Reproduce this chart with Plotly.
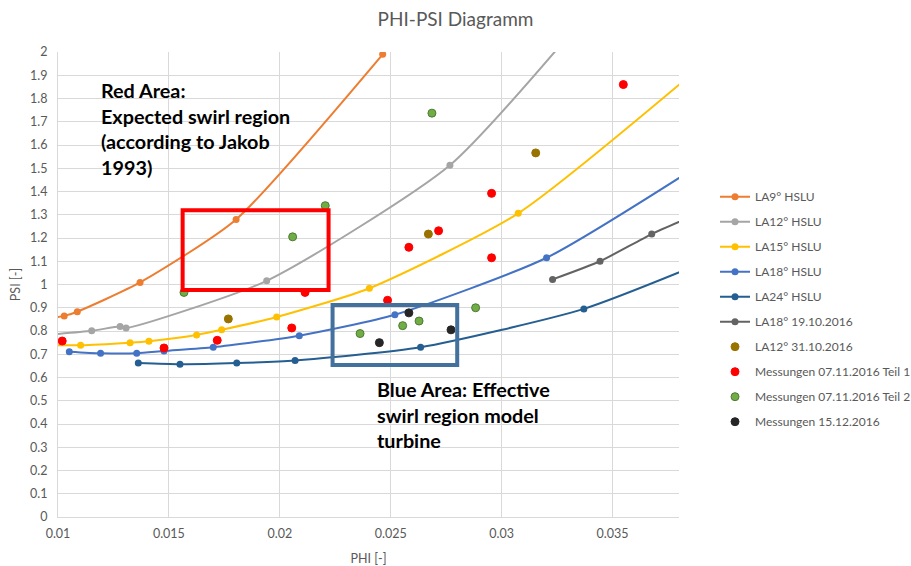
import plotly.graph_objects as go

# ---- characteristic curves (PHI, PSI) ----
la9_phi = [0.0092, 0.01028, 0.01087, 0.0137, 0.01803, 0.02464]
la9_psi = [0.850, 0.865, 0.883, 1.009, 1.280, 1.990]

la12_phi = [0.0085, 0.01152, 0.01280, 0.01307, 0.01941, 0.02767, 0.0340]
la12_psi = [0.775, 0.801, 0.819, 0.813, 1.016, 1.513, 2.180]

la15_phi = [0.0090, 0.01102, 0.01325, 0.01410, 0.01625, 0.01738, 0.01986, 0.02404, 0.03075, 0.0400]
la15_psi = [0.740, 0.739, 0.750, 0.756, 0.783, 0.805, 0.860, 0.984, 1.306, 2.020]

la18_phi = [0.01051, 0.01192, 0.01355, 0.01478, 0.01700, 0.02088, 0.02519, 0.03203, 0.0400]
la18_psi = [0.711, 0.704, 0.704, 0.714, 0.730, 0.780, 0.870, 1.115, 1.580]

la24_phi = [0.01362, 0.01550, 0.01806, 0.02069, 0.02635, 0.03371, 0.0400]
la24_psi = [0.662, 0.657, 0.662, 0.673, 0.730, 0.895, 1.130]

la18b_phi = [0.03230, 0.03444, 0.03677, 0.0390]
la18b_psi = [1.022, 1.100, 1.217, 1.310]

# ---- measurements ----
la12b_phi = [0.01768, 0.02670, 0.03154]
la12b_psi = [0.852, 1.217, 1.566]

m1_phi = [0.01019, 0.01478, 0.01718, 0.02054, 0.02114, 0.02486, 0.02582, 0.02716, 0.02955, 0.02955, 0.03549]
m1_psi = [0.757, 0.727, 0.760, 0.813, 0.966, 0.932, 1.160, 1.231, 1.392, 1.115, 1.860]

m2_phi = [0.01568, 0.02058, 0.02205, 0.02362, 0.02554, 0.02628, 0.02686, 0.02883]
m2_psi = [0.966, 1.205, 1.339, 0.789, 0.823, 0.843, 1.737, 0.900]

m3_phi = [0.02449, 0.02582, 0.02772]
m3_psi = [0.750, 0.878, 0.805]

# ---- highlighted regions (PHI from/to, PSI from/to) ----
red_area = [0.01562, 0.02220, 0.976, 1.319]
blue_area = [0.02238, 0.02800, 0.654, 0.912]

FONT = "Lato"
GREY_TXT = "#595959"

fig = go.Figure()

line_series = [
    ("LA9° HSLU", la9_phi, la9_psi, "#ED7D31"),
    ("LA12° HSLU", la12_phi, la12_psi, "#A5A5A5"),
    ("LA15° HSLU", la15_phi, la15_psi, "#FFC000"),
    ("LA18° HSLU", la18_phi, la18_psi, "#4472C4"),
    ("LA24° HSLU", la24_phi, la24_psi, "#255E91"),
    ("LA18° 19.10.2016", la18b_phi, la18b_psi, "#636363"),
]
for i, (name, xs, ys, col) in enumerate(line_series):
    fig.add_trace(go.Scatter(
        x=xs, y=ys, name=name, mode="lines+markers",
        line=dict(color=col, width=2, shape="spline", smoothing=0.6),
        marker=dict(color=col, size=7),
        legendgroup=f"g{i}",
    ))

point_series = [
    ("LA12° 31.10.2016", la12b_phi, la12b_psi, "#997300", "#997300"),
    ("Messungen 07.11.2016 Teil 1", m1_phi, m1_psi, "#FF0000", "#FF0000"),
    ("Messungen 07.11.2016 Teil 2", m2_phi, m2_psi, "#70AD47", "#4E7A31"),
    ("Messungen 15.12.2016", m3_phi, m3_psi, "#262626", "#262626"),
]
for j, (name, xs, ys, col, edge) in enumerate(point_series):
    fig.add_trace(go.Scatter(
        x=xs, y=ys, name=name, mode="markers",
        marker=dict(color=col, size=8, line=dict(color=edge, width=1)),
        legendgroup=f"p{j}",
    ))

for (x0, x1, y0, y1), col in [(red_area, "#FF0000"), (blue_area, "#41719C")]:
    fig.add_shape(type="rect", xref="x", yref="y", x0=x0, x1=x1, y0=y0, y1=y1,
                  line=dict(color=col, width=4), fillcolor="rgba(0,0,0,0)")

fig.add_annotation(
    xref="paper", yref="paper", x=0.066, y=0.949, xanchor="left", yanchor="top",
    text="<b>Red Area:<br>Expected swirl region<br>(according to Jakob<br>1993)</b>",
    showarrow=False, align="left", font=dict(family=FONT, size=19.8, color="#000000"),
)
fig.add_annotation(
    xref="paper", yref="paper", x=0.511, y=0.305, xanchor="left", yanchor="top",
    text="<b>Blue Area: Effective<br>swirl region model<br>turbine</b>",
    showarrow=False, align="left", font=dict(family=FONT, size=19.8, color="#000000"),
)

fig.update_layout(
    width=911, height=566,
    margin=dict(l=58, r=232, t=52, b=49, autoexpand=False),
    paper_bgcolor="white", plot_bgcolor="white",
    font=dict(family=FONT, size=12.5, color=GREY_TXT),
    title=dict(text="PHI-PSI Diagramm", x=0.5, xanchor="center", y=0.965, yanchor="middle",
               font=dict(family=FONT, size=19, color=GREY_TXT)),
    legend=dict(x=1.058, y=0.72, xanchor="left", yanchor="top",
                font=dict(family=FONT, size=12, color=GREY_TXT),
                traceorder="grouped", tracegroupgap=6, bgcolor="rgba(0,0,0,0)"),
    showlegend=True,
)
fig.update_xaxes(
    range=[0.01, 0.038], dtick=0.005, tick0=0.01, tickformat="~g",
    showgrid=True, gridcolor="#D9D9D9", gridwidth=1, zeroline=False,
    showline=True, linecolor="#D9D9D9", linewidth=1,
    ticks="", ticklabelstandoff=5, tickfont=dict(size=12.5, color=GREY_TXT),
    title=dict(text="PHI [-]", standoff=14, font=dict(size=12.5, color=GREY_TXT)),
)
fig.update_yaxes(
    range=[0, 2], dtick=0.1, tick0=0, tickformat="~g",
    showgrid=True, gridcolor="#D9D9D9", gridwidth=1, zeroline=False,
    showline=True, linecolor="#D9D9D9", linewidth=1,
    ticks="", ticklabelstandoff=7, tickfont=dict(size=12.5, color=GREY_TXT),
    title=dict(text="PSI [-]", standoff=6, font=dict(size=12.5, color=GREY_TXT)),
)

fig.write_html("out.html")
